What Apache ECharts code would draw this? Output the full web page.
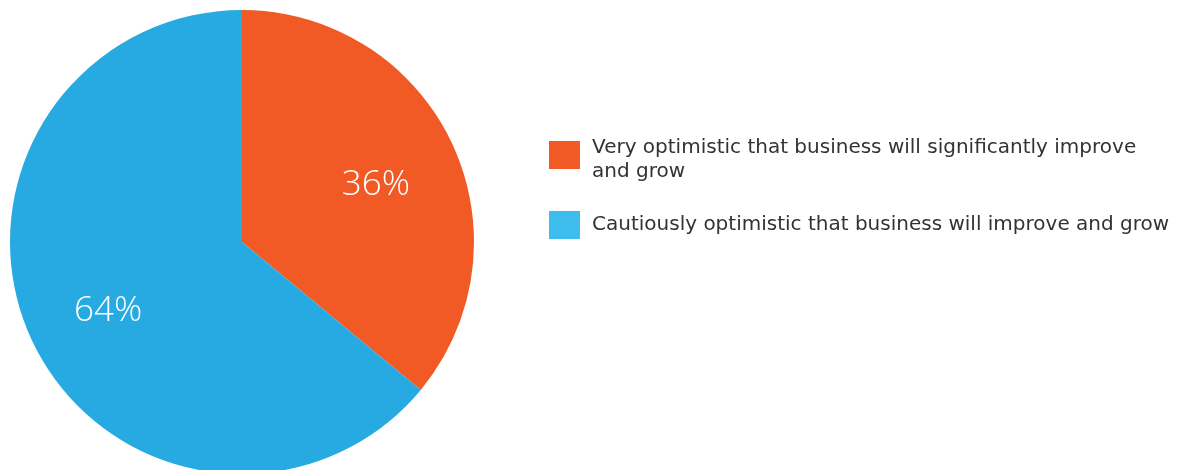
<!DOCTYPE html>
<html>
<head>
<meta charset="utf-8">
<script src="https://cdn.jsdelivr.net/npm/echarts@6/dist/echarts.min.js"></script>
<style>
  html, body { margin: 0; padding: 0; background: #ffffff; }
  #chart { width: 1188px; height: 470px; }
</style>
</head>
<body>
<div id="chart"></div>
<script>
// Survey outlook shares
const categories = [
  'Very optimistic that business will significantly improve and grow',
  'Cautiously optimistic that business will improve and grow'
];
const legendLabels = [
  'Very optimistic that business will significantly improve\nand grow',
  'Cautiously optimistic that business will improve and grow'
];
const values = [36, 64];
const sliceColors = ['#f15a24', '#27aae1'];
const legendColors = ['#f15a24', '#3dbdee'];
const legendFont = 'Verdana, "DejaVu Sans", "Noto Sans", sans-serif';

// Legend swatches: a 31x28 square inside a 31x38 box. The wrapped entry keeps
// its square at the top of the box, the single-line entry keeps it centred.
const swatchTop = 'path://M0,0L31,0L31,28L0,28ZM0,38';
const swatchMid = 'path://M0,0M0,5L31,5L31,33L0,33ZM0,38';

const pieData = categories.map((name, i) => ({
  name: name,
  value: values[i],
  itemStyle: { color: sliceColors[i] }
}));

const chart = echarts.init(document.getElementById('chart'), null, { renderer: 'canvas' });

chart.setOption({
  animation: false,
  backgroundColor: '#ffffff',
  legend: {
    orient: 'vertical',
    left: 544,
    top: 131,
    itemWidth: 31,
    itemHeight: 38,
    itemGap: 22,
    selectedMode: false,
    data: categories.map((name, i) => ({
      name: name,
      icon: legendLabels[i].indexOf('\n') >= 0 ? swatchTop : swatchMid,
      itemStyle: { color: legendColors[i], borderWidth: 0 }
    })),
    formatter: name => legendLabels[categories.indexOf(name)],
    textStyle: {
      fontFamily: legendFont,
      fontSize: 20,
      lineHeight: 24,
      color: '#333333',
      padding: [0, 0, 0, 7]
    }
  },
  series: [
    {
      // visible slices
      type: 'pie',
      center: [242, 242],
      radius: 232,
      startAngle: 90,
      clockwise: true,
      silent: true,
      label: { show: false },
      labelLine: { show: false },
      itemStyle: { borderWidth: 0 },
      data: pieData
    },
    {
      // transparent ring that places the percentage labels
      type: 'pie',
      center: [242, 242],
      radius: [58, 232],
      startAngle: 90,
      clockwise: true,
      silent: true,
      legendHoverLink: false,
      itemStyle: { color: 'rgba(0,0,0,0)', borderWidth: 0 },
      label: {
        show: true,
        position: 'inside',
        formatter: p => p.value + '%',
        color: '#ffffff',
        fontFamily: 'Open Sans',
        fontWeight: 300,
        fontSize: 35,
        offset: [0, 6]
      },
      labelLine: { show: false },
      data: categories.map((name, i) => ({ name: name, value: values[i] }))
    }
  ]
});
</script>
</body>
</html>
